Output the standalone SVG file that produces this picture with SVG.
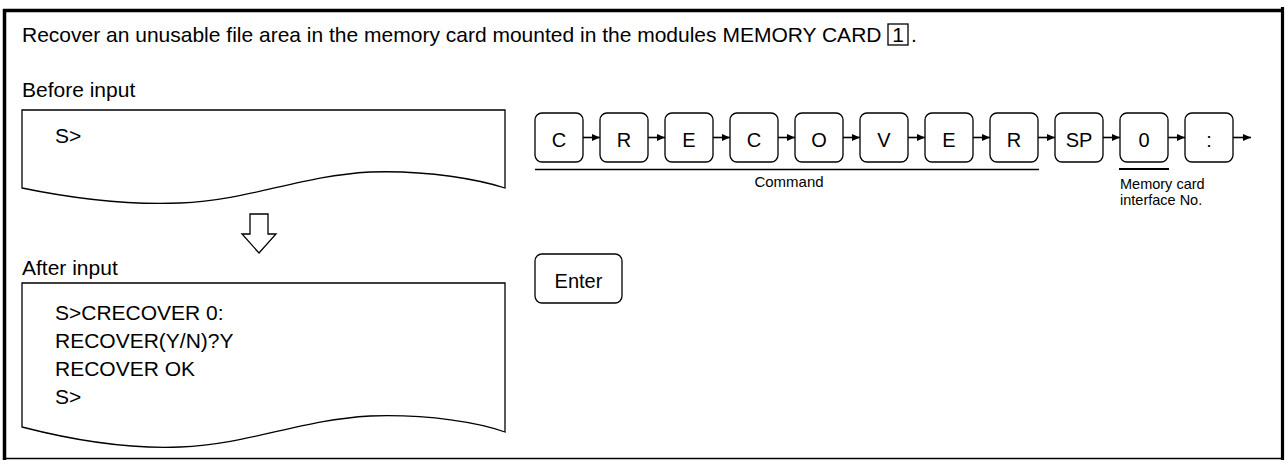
<svg xmlns="http://www.w3.org/2000/svg" width="1285" height="460" viewBox="0 0 1285 460">
  <style>
    text { font-family: "Liberation Sans", Arial, Helvetica, sans-serif; fill: #000; }
    .main { font-size: 21px; }
    .key { font-size: 20px; text-anchor: middle; }
    .small { font-size: 14.5px; }
    .screen { fill: #fff; stroke: #000; stroke-width: 1.3; }
    .keybox { fill: #fff; stroke: #000; stroke-width: 1.3; }
    .conn { stroke: #000; stroke-width: 1.6; fill: none; marker-end: url(#ah); }
  </style>
  <defs>
    <marker id="ah" markerUnits="userSpaceOnUse" markerWidth="8" markerHeight="7" refX="8" refY="3.5" orient="auto">
      <path d="M0,0 L8,3.5 L0,7 Z" fill="#000"/>
    </marker>
  </defs>
  <rect width="1285" height="460" fill="#fff"/>

  <g id="frame" stroke="#000" fill="none">
    <line x1="3" y1="10.5" x2="1284" y2="10.5" stroke-width="3.5"/>
    <line x1="4.5" y1="9" x2="4.5" y2="460" stroke-width="3.5"/>
    <line x1="1282.5" y1="7" x2="1282.5" y2="460" stroke-width="3.2"/>
    <line x1="3" y1="458.5" x2="1284" y2="458.5" stroke-width="1.5"/>
  </g>

  <g id="title">
    <text class="main" x="22" y="42">Recover an unusable file area in the memory card mounted in the modules MEMORY CARD</text>
    <rect x="888" y="24" width="20" height="21" fill="none" stroke="#000" stroke-width="1.3"/>
    <text class="main" x="898" y="42" text-anchor="middle">1</text>
    <text class="main" x="911" y="42">.</text>
  </g>

  <g id="before-label">
    <text class="main" x="22" y="97">Before input</text>
  </g>
  <g id="before-screen">
    <path class="screen" d="M22,110 H505 V188 C480,180 430,170 370,172 C300,176 250,200 180,203 C130,205 80,200 22,188 Z"/>
    <text class="main" x="55" y="143">S&gt;</text>
  </g>

  <g id="down-arrow">
    <path d="M250,214 H268 V234 H276 L259,253 L242,234 H250 Z" fill="#fff" stroke="#000" stroke-width="1.3" stroke-linejoin="miter"/>
  </g>

  <g id="after-label">
    <text class="main" x="22" y="275">After input</text>
  </g>
  <g id="after-screen">
    <path class="screen" d="M22,283 H505 V432 C480,423 430,414 370,416 C300,420 250,444 180,447 C130,449 80,442 22,427 Z"/>
    <text class="main" x="55" y="320">S&gt;CRECOVER 0:</text>
    <text class="main" x="55" y="348">RECOVER(Y/N)?Y</text>
    <text class="main" x="55" y="376">RECOVER OK</text>
    <text class="main" x="55" y="404">S&gt;</text>
  </g>

  <g id="key-C1"><rect class="keybox" x="535" y="113" width="48" height="49" rx="7"/><text class="key" x="559" y="147">C</text></g>
  <g id="key-R1"><rect class="keybox" x="600" y="113" width="48" height="49" rx="7"/><text class="key" x="624" y="147">R</text></g>
  <g id="key-E1"><rect class="keybox" x="665" y="113" width="48" height="49" rx="7"/><text class="key" x="689" y="147">E</text></g>
  <g id="key-C2"><rect class="keybox" x="730" y="113" width="48" height="49" rx="7"/><text class="key" x="754" y="147">C</text></g>
  <g id="key-O"><rect class="keybox" x="795" y="113" width="48" height="49" rx="7"/><text class="key" x="819" y="147">O</text></g>
  <g id="key-V"><rect class="keybox" x="860" y="113" width="48" height="49" rx="7"/><text class="key" x="884" y="147">V</text></g>
  <g id="key-E2"><rect class="keybox" x="925" y="113" width="48" height="49" rx="7"/><text class="key" x="949" y="147">E</text></g>
  <g id="key-R2"><rect class="keybox" x="990" y="113" width="48" height="49" rx="7"/><text class="key" x="1014" y="147">R</text></g>
  <g id="key-SP"><rect class="keybox" x="1055" y="113" width="48" height="49" rx="7"/><text class="key" x="1079" y="147">SP</text></g>
  <g id="key-0"><rect class="keybox" x="1120" y="113" width="48" height="49" rx="7"/><text class="key" x="1144" y="147">0</text></g>
  <g id="key-colon"><rect class="keybox" x="1185" y="113" width="48" height="49" rx="7"/><text class="key" x="1209" y="147">:</text></g>
  <g id="key-enter"><rect class="keybox" x="535" y="254" width="87" height="49" rx="7"/><text class="key" x="578.5" y="288">Enter</text></g>

  <g id="connectors">
    <line class="conn" x1="583" y1="137.5" x2="600" y2="137.5"/>
    <line class="conn" x1="648" y1="137.5" x2="665" y2="137.5"/>
    <line class="conn" x1="713" y1="137.5" x2="730" y2="137.5"/>
    <line class="conn" x1="778" y1="137.5" x2="795" y2="137.5"/>
    <line class="conn" x1="843" y1="137.5" x2="860" y2="137.5"/>
    <line class="conn" x1="908" y1="137.5" x2="925" y2="137.5"/>
    <line class="conn" x1="973" y1="137.5" x2="990" y2="137.5"/>
    <line class="conn" x1="1038" y1="137.5" x2="1055" y2="137.5"/>
    <line class="conn" x1="1103" y1="137.5" x2="1120" y2="137.5"/>
    <line class="conn" x1="1168" y1="137.5" x2="1185" y2="137.5"/>
    <line class="conn" x1="1233" y1="137.5" x2="1251" y2="137.5"/>
  </g>

  <g id="labels">
    <line x1="535" y1="169.5" x2="1039" y2="169.5" stroke="#000" stroke-width="1.5"/>
    <text class="small" x="789" y="187" text-anchor="middle" style="font-size:15px">Command</text>
    <line x1="1119" y1="169" x2="1169" y2="169" stroke="#000" stroke-width="2"/>
    <text class="small" x="1120" y="189">Memory card</text>
    <text class="small" x="1120" y="205">interface No.</text>
  </g>
</svg>
